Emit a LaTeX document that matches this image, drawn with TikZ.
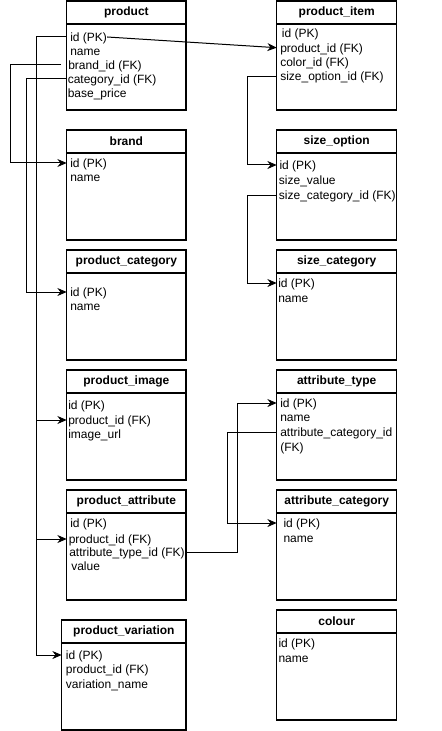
\documentclass[tikz,border=0pt]{standalone}
\usepackage{fontspec}
\setmainfont{Liberation Sans}
\usetikzlibrary{arrows.meta}

% One entity box: #1 name, #2 left, #3 top, #4 width, #5 height, #6 title
\newcommand\ertable[6]{%
  \node[tablebox, minimum width={#4*0.75pt}, minimum height={#5*0.75pt}, anchor=north west] (#1) at (#2,#3) {};
  \draw[headrule] (#2,{#3+23}) -- ({#2+#4},{#3+23});
  \node[headtext] (#1-h) at ({#2+#4/2},{#3+11.5}) {#6};
}

\begin{document}
\begin{tikzpicture}[x=0.75pt,y=-0.75pt,
  tablebox/.style={draw=black, line width=0.9pt, fill=white, inner sep=0pt, outer sep=0pt},
  headrule/.style={draw=black, line width=0.9pt},
  headtext/.style={font=\fontsize{9}{11}\selectfont\bfseries, inner sep=0pt},
  rowtext/.style={anchor=west, inner sep=0pt, text height=6.5pt, text depth=0pt, font=\fontsize{9}{11}\selectfont},
  fk/.style={draw=black, line width=0.75pt, -{Stealth[length=7pt,width=6pt]}}]

\useasboundingbox (0,0) rectangle (442,731);

% ---- left column ----
\ertable{p}{66.7}{1}{119.3}{109}{product}
\node[rowtext] (p-id)    at (70,37)   {id (PK)};
\node[rowtext] (p-name)  at (70,51)   {name};
\node[rowtext] (p-brand) at (68,65)   {brand\_id (FK)};
\node[rowtext] (p-cat)   at (67.5,79) {category\_id (FK)};
\node[rowtext] (p-price) at (67.5,93) {base\_price};

\ertable{b}{66.7}{130}{119.3}{110}{brand}
\node[rowtext] (b-id)   at (70,163) {id (PK)};
\node[rowtext] (b-name) at (70,177) {name};

\ertable{c}{66.7}{250}{119.3}{110}{product\_category}
\node[rowtext] (c-id)   at (70,292)   {id (PK)};
\node[rowtext] (c-name) at (70,306.5) {name};

\ertable{im}{66.7}{370}{119.3}{110}{product\_image}
\node[rowtext] (im-id)  at (68,405.5) {id (PK)};
\node[rowtext] (im-pid) at (68,420)   {product\_id (FK)};
\node[rowtext] (im-url) at (68,434)   {image\_url};

\ertable{pa}{66.7}{490}{119.3}{110}{product\_attribute}
\node[rowtext] (pa-id)  at (70,523.5)   {id (PK)};
\node[rowtext] (pa-pid) at (68.5,539)   {product\_id (FK)};
\node[rowtext] (pa-at)  at (69,552)     {attribute\_type\_id (FK)};
\node[rowtext] (pa-val) at (71,566.5)   {value};

\ertable{pv}{61.7}{620}{124.3}{110}{product\_variation}
\node[rowtext] (pv-id)   at (65.7,655)   {id (PK)};
\node[rowtext] (pv-pid)  at (65.7,669.5) {product\_id (FK)};
\node[rowtext] (pv-name) at (65.7,684)   {variation\_name};

% ---- right column ----
\ertable{pi}{276.7}{1}{120}{109}{product\_item}
\node[rowtext] (pi-id)  at (281.7,33.5) {id (PK)};
\node[rowtext] (pi-pid) at (280,47.7)   {product\_id (FK)};
\node[rowtext] (pi-col) at (280,62)     {color\_id (FK)};
\node[rowtext] (pi-so)  at (280,76.5)   {size\_option\_id (FK)};

\ertable{so}{276.7}{130}{120}{110}{size\_option}
\node[rowtext] (so-id)  at (279.3,165) {id (PK)};
\node[rowtext] (so-val) at (278.7,180) {size\_value};
\node[rowtext] (so-sc)  at (278.7,195) {size\_category\_id (FK)};

\ertable{sc}{276.7}{250}{120}{110}{size\_category}
\node[rowtext] (sc-id)   at (278,283) {id (PK)};
\node[rowtext] (sc-name) at (278,298) {name};

\ertable{at}{276.7}{370}{120}{110}{attribute\_type}
\node[rowtext] (at-id)   at (280,403)   {id (PK)};
\node[rowtext] (at-name) at (280,417.5) {name};
\node[rowtext] (at-ac)   at (280,432)   {attribute\_category\_id};
\node[rowtext] (at-fk)   at (280,447)   {(FK)};

\ertable{ac}{276.7}{490}{120}{110}{attribute\_category}
\node[rowtext] (ac-id)   at (283.3,523)   {id (PK)};
\node[rowtext] (ac-name) at (283.3,537.7) {name};

\ertable{co}{276.7}{610}{120}{110}{colour}
\node[rowtext] (co-id)   at (278.3,643) {id (PK)};
\node[rowtext] (co-name) at (278.3,658) {name};

% ---- vertical routing lanes ----
\coordinate (busB)  at (10,0);
\coordinate (busC)  at (26,0);
\coordinate (busP)  at (36,0);
\coordinate (busS)  at (247,0);
\coordinate (busA)  at (237,0);
\coordinate (busAC) at (227,0);

% ---- foreign keys ----
\draw[fk] (p-id.east) -- (pi.west |- pi-pid);
\draw[fk] (p.west |- p-id) -| (busP |- pv-id) -- (pv.west |- pv-id);
\draw[fk] (busP |- im-pid) -- (im.west |- im-pid);
\draw[fk] (busP |- pa-pid) -- (pa.west |- pa-pid);
\draw[fk] ([xshift=-5.25pt]p-brand.west) -| (busB |- b-id) -- (b.west |- b-id);
\draw[fk] (p.west |- p-cat) -| (busC |- c-id) -- (c.west |- c-id);
\draw[fk] (pi.west |- pi-so) -| (busS |- so-id) -- (so.west |- so-id);
\draw[fk] (so.west |- so-sc) -| (busS |- sc-id) -- (sc.west |- sc-id);
\draw[fk] (pa.east |- pa-at) -| (busA |- at-id) -- (at.west |- at-id);
\draw[fk] (at.west |- at-ac) -| (busAC |- ac-id) -- (ac.west |- ac-id);

\end{tikzpicture}
\end{document}
